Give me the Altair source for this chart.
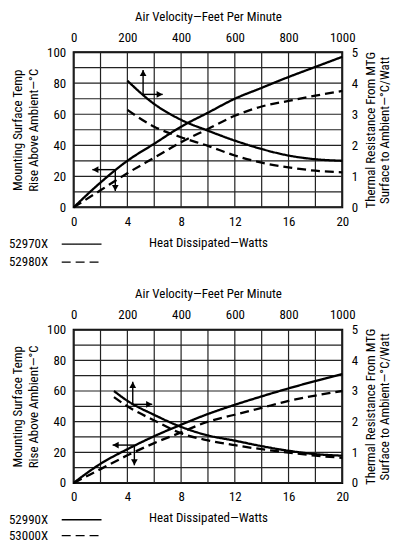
import altair as alt
import pandas as pd

FONT = "Roboto Condensed, Roboto, sans-serif"

# ---------------- data ----------------
watts = [0, 2, 4, 6, 8, 10, 12, 14, 16, 18, 20]

# top panel
series_top = ["52970X", "52980X"]
temp_52970 = [0, 16, 30, 41, 52, 61, 70, 77, 84, 90.5, 97]
temp_52980 = [0, 11, 22, 32, 42, 50.5, 59, 65, 68.6, 72, 75]
fpm_top = [200, 300, 400, 500, 600, 700, 800, 900, 1000]
res_52970 = [4.08, 3.33, 2.82, 2.47, 2.15, 1.88, 1.67, 1.55, 1.5]
res_52980 = [3.14, 2.6, 2.26, 1.98, 1.67, 1.44, 1.29, 1.18, 1.13]
# arrow annotations (watts, temp units): vertex and tip
arrow_top_vx = [5.17, 5.17, 3.1, 3.1]
arrow_top_vy = [72.8, 72.8, 24.3, 24.3]
arrow_top_tx = [5.17, 6.63, 1.39, 3.1]
arrow_top_ty = [88.5, 72.8, 24.3, 10.5]

# bottom panel
series_bot = ["52990X", "53000X"]
temp_52990 = [0, 12.5, 22, 30.5, 38, 45, 51, 56.5, 61.7, 66.5, 71]
temp_53000 = [0, 9, 18, 26, 33, 40, 44.5, 49, 53.5, 57, 60]
fpm_bot = [150, 200, 300, 400, 500, 600, 700, 800, 900, 1000]
res_52990 = [3.0, 2.68, 2.22, 1.83, 1.55, 1.38, 1.2, 1.05, 0.94, 0.89]
res_53000 = [2.8, 2.5, 2.04, 1.62, 1.39, 1.23, 1.1, 0.99, 0.89, 0.82]
arrow_bot_vx = [4.4, 4.4, 4.52, 4.52]
arrow_bot_vy = [51.3, 51.3, 24.7, 24.7]
arrow_bot_tx = [4.4, 5.85, 2.9, 4.52]
arrow_bot_ty = [66.0, 51.3, 24.7, 11.5]

arrow_dirs = ["up", "right", "left", "down"]
head_paths = [
    "M0,0L-0.55,1L0.55,1Z",
    "M0,0L-1,-0.55L-1,0.55Z",
    "M0,0L1,-0.55L1,0.55Z",
    "M0,0L-0.55,-1L0.55,-1Z",
]

grid_x = list(range(0, 21, 2))
grid_y = list(range(0, 101, 10))
watt_labels = [0, 4, 8, 12, 16, 20]
temp_labels = [0, 20, 40, 60, 80, 100]
fpm_labels = [0, 200, 400, 600, 800, 1000]
res_labels = [0, 1, 2, 3, 4, 5]
dash_styles = [[1, 0], [9, 5]]

AX = dict(grid=False, ticks=False, tickSize=0, domain=False,
          labelOverlap=False, labelFlush=False)


def panel(series, tA, tB, fpm, rA, rB, vx, vy, tx, ty, h, leg_y, leg_dy):
    n = len(watts)
    tdf = pd.DataFrame({"watts": watts * 2, "temp": tA + tB,
                        "series": [series[0]] * n + [series[1]] * n})
    m = len(fpm)
    rdf = pd.DataFrame({"fpm": fpm * 2, "res": rA + rB,
                        "series": [series[0]] * m + [series[1]] * m})
    adf = pd.DataFrame({"vx": vx, "vy": vy, "tx": tx, "ty": ty, "dir": arrow_dirs})
    dash = alt.Scale(domain=series, range=dash_styles)

    xs = alt.Scale(domain=[0, 20], nice=False, zero=False)
    ys = alt.Scale(domain=[0, 100], nice=False)
    x_axis = alt.Axis(orient="bottom", values=watt_labels,
                      title="Heat Dissipated\u2014Watts",
                      labelPadding=8, titlePadding=8, **AX)
    y_axis = alt.Axis(orient="left", values=temp_labels,
                      title=["Mounting Surface Temp", "Rise Above Ambient\u2014\u00b0C"],
                      titleLineHeight=16, labelPadding=8, titlePadding=6, **AX)

    vgrid = alt.Chart(pd.DataFrame({"gx": grid_x})).mark_rule(
        color="#222222", strokeWidth=1.2).encode(
        x=alt.X("gx:Q", scale=xs, axis=x_axis))
    hgrid = alt.Chart(pd.DataFrame({"gy": grid_y})).mark_rule(
        color="#222222", strokeWidth=1.2).encode(
        y=alt.Y("gy:Q", scale=ys, axis=y_axis))

    temp_lines = alt.Chart(tdf).mark_line(
        color="black", strokeWidth=2.3, interpolate="monotone"
    ).encode(
        x=alt.X("watts:Q", scale=xs, axis=x_axis),
        y=alt.Y("temp:Q", scale=ys, axis=y_axis),
        strokeDash=alt.StrokeDash("series:N", scale=dash, legend=None),
    )

    shafts = alt.Chart(adf).mark_rule(color="black", strokeWidth=1.4).encode(
        x=alt.X("vx:Q", scale=xs, axis=x_axis), y=alt.Y("vy:Q", scale=ys, axis=y_axis),
        x2="tx:Q", y2="ty:Q",
    )
    heads = alt.Chart(adf).mark_point(
        filled=True, color="black", opacity=1, size=150, strokeWidth=0
    ).encode(
        x=alt.X("tx:Q", scale=xs, axis=x_axis), y=alt.Y("ty:Q", scale=ys, axis=y_axis),
        shape=alt.Shape("dir:N", scale=alt.Scale(domain=arrow_dirs, range=head_paths),
                        legend=None),
    )

    legend_marks = []
    for i, name in enumerate(series):
        ldf = pd.DataFrame({"series": [name]})
        legend_marks.append(
            alt.Chart(ldf).mark_text(align="left", baseline="middle", fontSize=13,
                                     font=FONT, color="black").encode(
                x=alt.value(-65), y=alt.value(leg_y + leg_dy * i), text="series:N")
        )
        legend_marks.append(
            alt.Chart(ldf).mark_rule(color="black", strokeWidth=1.3,
                                     strokeDash=dash_styles[i]).encode(
                x=alt.value(-12), x2=alt.value(28), y=alt.value(leg_y + leg_dy * i))
        )

    layer_a = alt.layer(vgrid, hgrid, temp_lines, shafts, heads, *legend_marks)

    res_lines = alt.Chart(rdf).mark_line(
        color="black", strokeWidth=2.3, interpolate="monotone"
    ).encode(
        x=alt.X("fpm:Q", scale=alt.Scale(domain=[0, 1000], nice=False), axis=alt.Axis(
            orient="top", values=fpm_labels, format="d",
            title="Air Velocity\u2014Feet Per Minute",
            labelPadding=8, titlePadding=8, **AX)),
        y=alt.Y("res:Q", scale=alt.Scale(domain=[0, 5], nice=False), axis=alt.Axis(
            orient="right", values=res_labels,
            title=["Thermal Resistance From MTG", "Surface to Ambient\u2014\u00b0C/Watt"],
            titleAngle=270, titleBaseline="top", titleLineHeight=14,
            titleX=22, titleY=h / 2, titleAlign="center",
            labelPadding=9, **AX)),
        strokeDash=alt.StrokeDash("series:N", scale=dash, legend=None),
    )

    return alt.layer(layer_a, res_lines).resolve_scale(
        x="independent", y="independent"
    ).properties(width=270, height=h)


top = panel(series_top, temp_52970, temp_52980, fpm_top, res_52970, res_52980,
            arrow_top_vx, arrow_top_vy, arrow_top_tx, arrow_top_ty, 156, 193, 18)
bottom = panel(series_bot, temp_52990, temp_53000, fpm_bot, res_52990, res_53000,
               arrow_bot_vx, arrow_bot_vy, arrow_bot_tx, arrow_bot_ty, 154, 191, 16)

chart = alt.vconcat(top, bottom, spacing=17).properties(
    padding={"left": 0, "top": 0, "right": 0, "bottom": 0}
).configure_view(
    stroke="black", strokeWidth=2
).configure_axis(
    labelFont=FONT, titleFont=FONT, labelFontSize=13, titleFontSize=13,
    titleFontWeight="normal", labelColor="black", titleColor="black",
    labelOverlap=False,
)

chart.save("out.html", embed_options={"renderer": "svg", "actions": False})
